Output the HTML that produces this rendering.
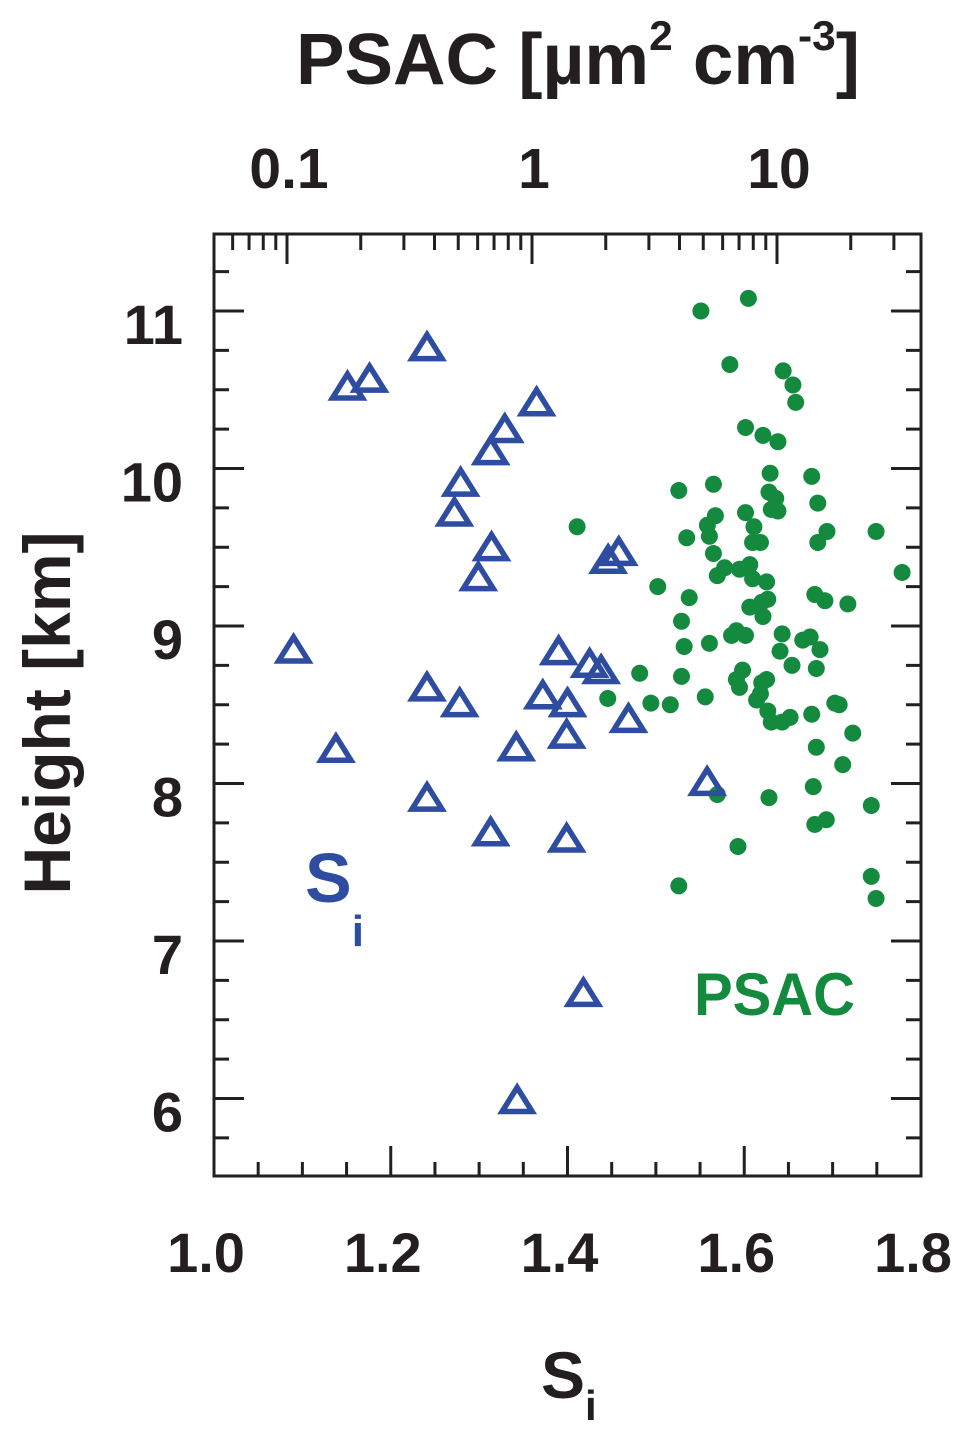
<!DOCTYPE html>
<html><head><meta charset="utf-8">
<style>
html,body{margin:0;padding:0;background:#fff;}
svg{display:block;font-family:"Liberation Sans",Arial,sans-serif;}
</style></head>
<body>
<svg id="chart" width="971" height="1436" viewBox="0 0 971 1436" xmlns="http://www.w3.org/2000/svg">
<g id="axes"></g>
<g id="marks"></g>
<text x="578" y="84" text-anchor="middle" font-size="72" font-weight="bold" fill="#231f20" textLength="564" lengthAdjust="spacingAndGlyphs">PSAC [µm<tspan font-size="42" dy="-34">2</tspan><tspan dy="34"> cm</tspan><tspan font-size="42" dy="-34">-3</tspan><tspan dy="34">]</tspan></text>
<text transform="translate(70,713) rotate(-90)" text-anchor="middle" font-size="66" font-weight="bold" fill="#231f20">Height [km]</text>
<text x="541" y="1398" font-size="66" font-weight="bold" fill="#231f20">S<tspan font-size="42" dy="22">i</tspan></text>
<text x="305" y="902" font-size="70" font-weight="bold" fill="#2e4da0">S<tspan font-size="44" dy="44">i</tspan></text>
<text x="694" y="1015" font-size="60" font-weight="bold" fill="#138a3d" textLength="161" lengthAdjust="spacingAndGlyphs">PSAC</text>
</svg>
<script>
const siValues=[1.241,1.151,1.176,1.365,1.329,1.313,1.279,1.272,1.314,1.299,1.446,1.458,1.090,1.390,1.425,1.438,1.241,1.278,1.372,1.400,1.399,1.469,1.342,1.138,1.241,1.313,1.399,1.558,1.418,1.343];
const siHeights=[10.78,10.53,10.58,10.43,10.26,10.12,9.92,9.73,9.51,9.32,9.43,9.48,8.86,8.85,8.77,8.73,8.62,8.52,8.57,8.52,8.32,8.42,8.24,8.23,7.92,7.70,7.66,8.02,6.68,6.00];
const psacValues=[4.8,7.5,6.3,10.4,11.4,11.7,7.3,8.6,9.9,9.2,13.6,3.9,5.4,9.1,9.7,14.4,7.3,9.3,9.9,1.5,5.5,7.9,5.1,5.2,4.2,8.4,7.8,15.7,24.9,14.4,5.4,7.6,6.9,6.0,5.6,7.8,8.9,31.8,3.2,4.3,14.0,15.4,19.1,7.6,8.5,9.0,8.6,4.0,6.7,6.4,7.3,10.3,12.5,13.4,14.7,4.1,5.2,10.1,7.1,11.3,14.2,2.7,6.7,8.9,6.9,4.0,8.5,8.4,2.0,3.0,3.6,5.0,8.1,9.0,16.9,17.6,9.3,10.3,11.1,13.6,20.0,14.2,9.1,5.6,13.8,18.2,23.8,14.0,15.6,6.8,3.9,23.8,24.9];
const psacHeights=[11.00,11.08,10.66,10.62,10.53,10.42,10.26,10.21,10.17,9.97,9.95,9.86,9.90,9.85,9.81,9.78,9.72,9.74,9.73,9.63,9.70,9.63,9.64,9.57,9.56,9.53,9.53,9.60,9.60,9.53,9.46,9.39,9.36,9.37,9.32,9.30,9.28,9.34,9.25,9.18,9.20,9.16,9.14,9.12,9.15,9.17,9.06,9.03,8.97,8.94,8.94,8.95,8.91,8.93,8.85,8.87,8.89,8.84,8.72,8.75,8.73,8.70,8.66,8.66,8.61,8.68,8.64,8.57,8.54,8.51,8.50,8.55,8.53,8.46,8.51,8.50,8.39,8.39,8.42,8.44,8.32,8.23,7.91,7.93,7.98,8.12,7.86,7.74,7.77,7.60,7.35,7.41,7.27];
const bottomTickLabels=["1.0","1.2","1.4","1.6","1.8"];
const leftTickLabels=["6","7","8","9","10","11"];
const topTickLabels=["0.1","1","10"];

const NS="http://www.w3.org/2000/svg";
const L=214,R=921,T=234,B=1176;
const xSi=v=>L+(v-1.0)/0.8*(R-L);
const yH=h=>311+(11-h)*157.5;
const xP=p=>532+Math.log10(p)*245;
const axes=document.getElementById('axes'),marks=document.getElementById('marks');
function mk(tag,attrs,parent){const e=document.createElementNS(NS,tag);for(const k in attrs)e.setAttribute(k,attrs[k]);parent.appendChild(e);return e;}
const frame=mk('rect',{x:L,y:T,width:R-L,height:B-T,fill:'none',stroke:'#231f20','stroke-width':3},axes);


for(let k=1;k<16;k++){const v=1+k*0.05,x=xSi(v),maj=k%4===0;
 const t=mk('line',{x1:x,x2:x,y1:B,y2:B-(maj?30:14),stroke:'#231f20','stroke-width':3},axes);
 
 }
bottomTickLabels.forEach(s=>{const t=mk('text',{x:xSi(parseFloat(s))-8,y:1272,'text-anchor':'middle','font-size':56,'font-weight':'bold',fill:'#231f20'},axes);t.textContent=s;
 
 });
for(let h=5.75;h<11.5;h+=0.25){const y=yH(h),maj=Math.abs(h-Math.round(h))<1e-6;const len=maj?30:15;
 [[L,L+len],[R,R-len]].forEach(p=>{const t=mk('line',{x1:p[0],x2:p[1],y1:y,y2:y,stroke:'#231f20','stroke-width':3},axes);
 
 });}
leftTickLabels.forEach(s=>{const t=mk('text',{x:183,y:yH(parseFloat(s))+33,'text-anchor':'end','font-size':56,'font-weight':'bold',fill:'#231f20'},axes);t.textContent=s;
 
 });
for(let d=-2;d<=1;d++){for(let m=1;m<=9;m++){const p=m*Math.pow(10,d),x=xP(p);if(x<=L+2||x>=R-2)continue;
 const t=mk('line',{x1:x,x2:x,y1:T,y2:T+(m===1?30:16),stroke:'#231f20','stroke-width':3},axes);
 
 }}
topTickLabels.forEach(s=>{const t=mk('text',{x:xP(parseFloat(s))+2,y:188,'text-anchor':'middle','font-size':57,'font-weight':'bold',fill:'#231f20'},axes);t.textContent=s;
 
 });
psacValues.forEach((p,i)=>{const c=mk('circle',{cx:xP(p)+2,cy:yH(psacHeights[i]),r:8.5,fill:'#138a3d'},marks);
 
 });
siValues.forEach((v,i)=>{const x=xSi(v),y=yH(siHeights[i])+2;
 const t=mk('polygon',{points:`${x},${y-13} ${x-15},${y+11} ${x+15},${y+11}`,fill:'none',stroke:'#2e4da0','stroke-width':5.5,'stroke-linejoin':'miter'},marks);
 
 });
</script>
</body></html>
